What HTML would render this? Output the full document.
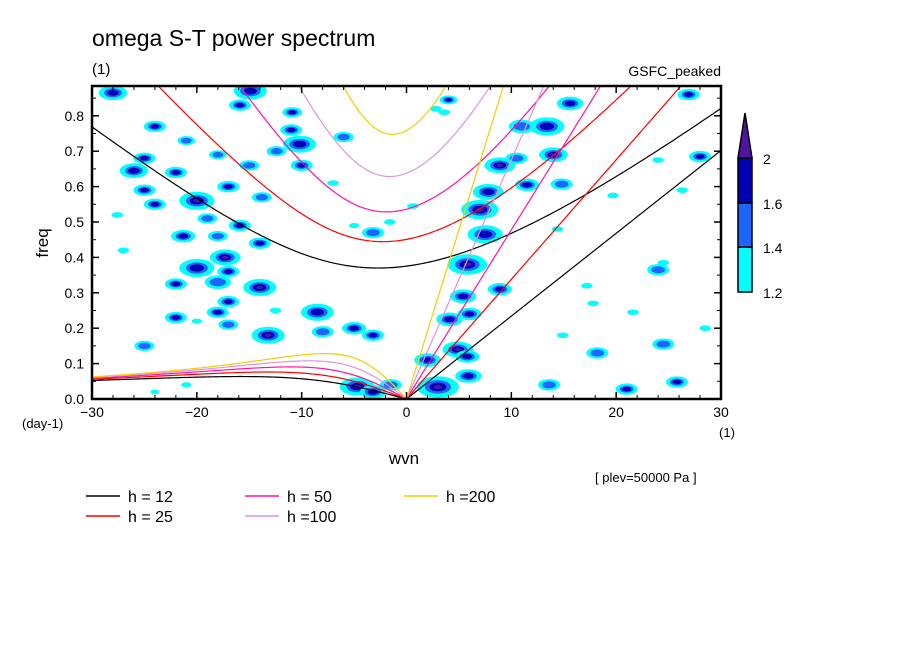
<!DOCTYPE html>
<html><head><meta charset="utf-8"><style>
html,body{margin:0;padding:0;background:#fff;}
svg{display:block;font-family:"Liberation Sans",sans-serif;}
</style></head><body>
<svg id="chart" width="904" height="654" viewBox="0 0 904 654">
<defs><clipPath id="plotClip"><rect x="92" y="86" width="629" height="313"/></clipPath></defs>
<text x="92" y="46" font-size="23">omega S-T power spectrum</text>
<text x="92" y="74" font-size="15">(1)</text>
<text x="721" y="76" font-size="14" text-anchor="end">GSFC_peaked</text>
<g id="blobs" clip-path="url(#plotClip)"></g>
<g id="curves" clip-path="url(#plotClip)"></g>
<rect x="92" y="86" width="629" height="313" fill="none" stroke="#000" stroke-width="2.5"/>
<g id="axes"></g>
<text transform="translate(48,243) rotate(-90)" font-size="17" text-anchor="middle">freq</text>
<text x="22" y="428" font-size="13">(day-1)</text>
<text x="727" y="437" font-size="13" text-anchor="middle">(1)</text>
<text x="404" y="464" font-size="17" text-anchor="middle">wvn</text>
<text x="595" y="482" font-size="13">[ plev=50000 Pa ]</text>
<g id="legend"></g>
<g id="colorbar"></g>
</svg>
<script>
const hValues = [12, 25, 50, 100, 200];
const hLabels = ["h = 12", "h = 25", "h = 50", "h =100", "h =200"];
const blobK = [-28,-15.9,-14.9,-10.9,-11,-10.2,-6,-24,-21,-18,-25,-26,-22,-12.4,-10,-15,-25,-24,-20,-17,-19,-13.8,-15.9,-21.3,-18,-14,-17.3,-27,-20,-17,-18,-22,-14,-17,-18,-22,-8.5,-13.2,-5,-3.2,-8,-17,-20,-25,-4.7,-3.2,-1.5,-24,-21,-1.6,-3.2,-5,-27.6,
3,5.9,2,4.9,5.8,4.1,6,5.4,8.9,5.8,7.5,7,7.8,11.5,8.9,10.5,14,13.4,15.6,14.8,4,26.9,2.8,3.6,25.8,21,24.5,18.2,21.6,24,24.5,28,19.7,24,26.3,0.6,28.5,17.8,14.4,17.2,13.6,14.9,11,-7,-12.5];
const blobF = [0.865,0.83,0.87,0.81,0.76,0.72,0.74,0.77,0.73,0.69,0.68,0.645,0.64,0.70,0.66,0.66,0.59,0.55,0.56,0.60,0.51,0.57,0.49,0.46,0.46,0.44,0.40,0.42,0.37,0.36,0.33,0.325,0.315,0.275,0.245,0.23,0.245,0.18,0.20,0.18,0.19,0.21,0.22,0.15,0.035,0.02,0.04,0.02,0.04,0.50,0.47,0.49,0.52,
0.034,0.065,0.11,0.14,0.12,0.225,0.24,0.29,0.31,0.38,0.465,0.535,0.585,0.605,0.66,0.68,0.69,0.77,0.835,0.607,0.845,0.86,0.82,0.81,0.048,0.028,0.155,0.13,0.245,0.365,0.385,0.685,0.575,0.675,0.59,0.545,0.2,0.27,0.48,0.32,0.04,0.18,0.77,0.61,0.25];
const blobL = [3,3,3,3,3,3,2,3,2,2,3,3,3,2,3,2,3,3,4,3,2,2,3,3,2,3,4,1,3,3,2,3,4,3,3,3,3,4,3,3,2,2,1,2,4,3,2,1,1,1,2,1,1,
4,3,3,4,3,3,3,3,3,4,3,4,3,3,4,2,4,3,3,2,3,3,1,1,3,3,2,2,1,2,1,3,1,1,1,1,1,1,1,1,2,1,2,1,1];
const blobS = [1.3,1,1.5,0.9,1,1.5,0.9,1,0.8,0.8,1,1.3,1,0.9,1,0.9,1,1,1.6,1,0.9,0.9,1,1.1,0.9,1,1.4,1,1.6,1,1.2,1,1.5,1,1,1,1.5,1.5,1.1,1,1,0.9,0.9,0.9,1.6,1.2,1,0.8,0.9,1,1,0.9,1,
1.9,1.2,1.2,1.4,1.1,1.2,1.1,1.2,1.1,1.8,1.6,1.7,1.4,1.1,1.4,1,1.3,1.6,1.2,1,0.8,1,1,1,1,1,1,1,1,1,1,1,1,1,1,1,1,1,1,1,1,1,1.2,1,1];
const NS='http://www.w3.org/2000/svg';
const X0=92,X1=721,YB=399,YT=86;
function xs(k){return X0+(k+30)/60*(X1-X0);}
function ys(f){return YB-f*354;}
function mk(tag,attrs,parent){const e=document.createElementNS(NS,tag);for(const a in attrs)e.setAttribute(a,attrs[a]);parent.appendChild(e);return e;}
const levelColors=['#00ffff','#1e64ff','#0000b4','#5014a0'];
const levelScale=[1,0.62,0.4,0.2];
const gB=document.getElementById('blobs');
for(let i=0;i<blobK.length;i++){
  const rk=(blobL[i]===1?0.55:1.05)*blobS[i], rf=(blobL[i]===1?0.008:0.016)*blobS[i];
  for(let l=0;l<blobL[i];l++){
    const e=mk('ellipse',{cx:xs(blobK[i]),cy:ys(blobF[i]),rx:rk*levelScale[l]*10.48,ry:rf*levelScale[l]*354,fill:levelColors[l]},gB);
    
    
  }
}
const curveColors=['#000000','#ff0000','#ff10b0','#dc96dc','#f0d000'];
const beta=2.29e-11,a=6.371e6,g=9.8,toCpd=86400/(2*Math.PI);
function root(k,c,j){const A=c*c*k*k+3*beta*c,B=beta*c*c*k;const r=2*Math.sqrt(A/3);let arg=(3*B/(2*A))*Math.sqrt(3/A);arg=Math.max(-1,Math.min(1,arg));return r*Math.cos(Math.acos(arg)/3-2*Math.PI*j/3);}
const gC=document.getElementById('curves');
hValues.forEach((h,idx)=>{
  const c=Math.sqrt(g*h);
  let ig='',ro='';
  for(let s=-30;s<=30.001;s+=0.25){const k=s/a;const w=root(k,c,0)*toCpd;ig+=(ig?'L':'M')+xs(s).toFixed(2)+','+ys(w).toFixed(2);}
  for(let s=-30;s<=0.001;s+=0.25){const k=s/a;const w=(s===0?0:root(k,c,1))*toCpd;ro+=(ro?'L':'M')+xs(s).toFixed(2)+','+ys(w).toFixed(2);}
  const kel='M'+xs(0)+','+ys(0)+'L'+xs(30)+','+ys(c*30/a*toCpd);
  [['ig',ig],['rossby',ro],['kelvin',kel]].forEach(([n,d])=>{
    const p=mk('path',{d:d,fill:'none',stroke:curveColors[idx],'stroke-width':1.2},gC);
    
    
  });
});
const gA=document.getElementById('axes');
const xTicks=[-30,-20,-10,0,10,20,30];
const yTicks=[0,0.1,0.2,0.3,0.4,0.5,0.6,0.7,0.8];
xTicks.forEach(t=>{
  mk('line',{x1:xs(t),x2:xs(t),y1:YB,y2:YB-7,stroke:'#000','stroke-width':1.5},gA);
  mk('line',{x1:xs(t),x2:xs(t),y1:YT,y2:YT+7,stroke:'#000','stroke-width':1.5},gA);
  const tx=mk('text',{x:xs(t),y:417,'font-size':14,'text-anchor':'middle'},gA);
  tx.textContent=(t<0?'\u2212':'')+Math.abs(t);
  
  
});
for(let t=-30;t<=30;t+=2){if(t%10===0)continue;
  mk('line',{x1:xs(t),x2:xs(t),y1:YB,y2:YB-4,stroke:'#000'},gA);
  mk('line',{x1:xs(t),x2:xs(t),y1:YT,y2:YT+4,stroke:'#000'},gA);}
yTicks.forEach(t=>{
  mk('line',{x1:X0,x2:X0+7,y1:ys(t),y2:ys(t),stroke:'#000','stroke-width':1.5},gA);
  mk('line',{x1:X1,x2:X1-7,y1:ys(t),y2:ys(t),stroke:'#000','stroke-width':1.5},gA);
  const tx=mk('text',{x:84,y:ys(t)+5,'font-size':14,'text-anchor':'end'},gA);
  tx.textContent=t.toFixed(1);
  
  
});
for(let t=0.05;t<0.88;t+=0.1){
  mk('line',{x1:X0,x2:X0+4,y1:ys(t),y2:ys(t),stroke:'#000'},gA);
  mk('line',{x1:X1,x2:X1-4,y1:ys(t),y2:ys(t),stroke:'#000'},gA);}
const gL=document.getElementById('legend');
const legX=[86,86,245,245,404],legY=[496,516,496,516,496];
hValues.forEach((h,i)=>{
  const ln=mk('line',{x1:legX[i],x2:legX[i]+34,y1:legY[i],y2:legY[i],stroke:curveColors[i],'stroke-width':1.5},gL);
  
  
  const tx=mk('text',{x:legX[i]+42,y:legY[i]+6,'font-size':16},gL);
  tx.textContent=hLabels[i];
  
  
});
const cbLevels=[1.2,1.4,1.6,2];
const cbTop=[247,203,158],cbBot=[292,247,203];
const gCB=document.getElementById('colorbar');
for(let i=0;i<3;i++){
  const r=mk('rect',{x:738,y:cbTop[i],width:14,height:cbBot[i]-cbTop[i],fill:levelColors[i],stroke:'#000','stroke-width':1.5},gCB);
  
  
}
const tri=mk('polygon',{points:'738,158 752,158 745,113',fill:levelColors[3],stroke:'#000','stroke-width':1.5},gCB);


const cbY=[292,247,203,158];
cbLevels.forEach((v,i)=>{
  const tx=mk('text',{x:763,y:cbY[i]+6,'font-size':14},gCB);
  tx.textContent=String(v);
  
  
});
</script>
</body></html>
